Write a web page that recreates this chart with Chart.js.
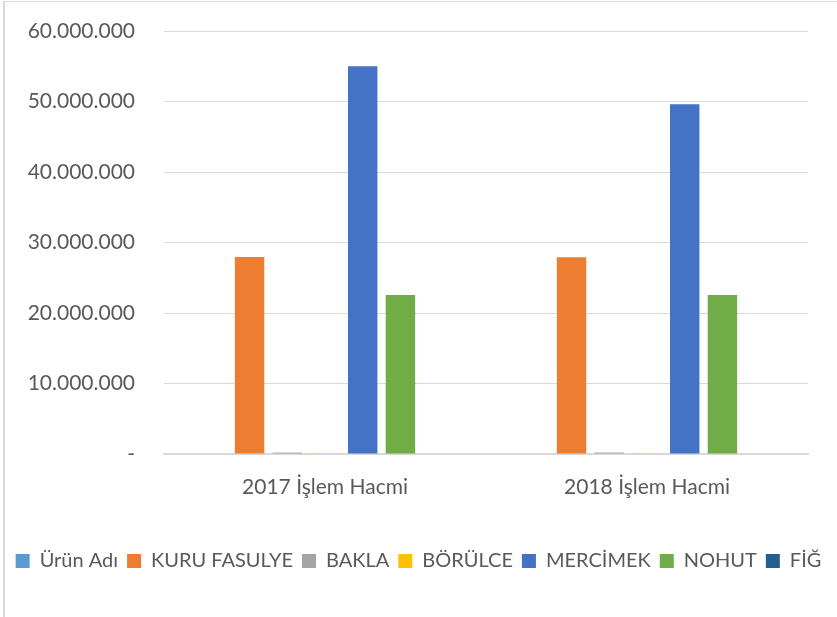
<!DOCTYPE html>
<html>
<head>
<meta charset="utf-8">
<script src="https://cdn.jsdelivr.net/npm/chart.js@4.4.1/dist/chart.umd.min.js"></script>
<style>
  html, body { margin: 0; padding: 0; background: #fff; }
  #wrap { position: absolute; left: 0; top: 0; width: 837px; height: 617px; }
  #frame { position: absolute; left: 3px; top: 1px; width: 840px; height: 620px; border-left: 2px solid #d9d9d9; border-top: 1px solid #d9d9d9; pointer-events: none; }
  canvas { position: absolute; left: 0; top: 0; }
</style>
</head>
<body>
<div id="wrap">
  <canvas id="c" width="837" height="617"></canvas>
  <div id="frame"></div>
</div>
<script>
const categories = ["2017 İşlem Hacmi", "2018 İşlem Hacmi"];
const seriesNames = ["Ürün Adı", "KURU FASULYE", "BAKLA", "BÖRÜLCE", "MERCİMEK", "NOHUT", "FİĞ"];
const urunAdi     = [0, 0];
const kuruFasulye = [27950000, 27900000];
const bakla       = [200000, 210000];
const borulce     = [100000, 90000];
const mercimek    = [55000000, 49600000];
const nohut       = [22550000, 22550000];
const fig         = [0, 0];
const yTicks = [0, 10000000, 20000000, 30000000, 40000000, 50000000, 60000000];
const seriesColors = ["#5B9BD5", "#ED7D31", "#A5A5A5", "#FFC000", "#4472C4", "#70AD47", "#255E91"];

const seriesValues = [urunAdi, kuruFasulye, bakla, borulce, mercimek, nohut, fig];

function fmt(v) {
  if (v === 0) return "-";
  return String(Math.round(v)).replace(/\B(?=(\d{3})+(?!\d))/g, ".");
}

const FONT = "Lato, 'Open Sans', sans-serif";
const TXT = "#595959";

new Chart(document.getElementById("c"), {
  type: "bar",
  data: {
    labels: categories,
    datasets: seriesNames.map((n, i) => ({
      label: n,
      data: seriesValues[i],
      backgroundColor: seriesColors[i],
      borderWidth: 0,
      categoryPercentage: 0.82,
      barPercentage: 0.78
    }))
  },
  options: {
    responsive: false,
    animation: false,
    layout: { padding: { left: 0, right: 0, top: 31, bottom: 36 } },
    plugins: {
      legend: {
        position: "bottom",
        labels: {
          font: { family: FONT, size: 20 },
          color: TXT,
          boxWidth: 14,
          boxHeight: 14,
          padding: 9
        }
      },
      tooltip: { enabled: false }
    },
    scales: {
      x: {
        grid: { display: false, drawTicks: false },
        border: { display: true, color: "#d9d9d9", width: 2 },
        ticks: { font: { family: FONT, size: 21 }, color: TXT, padding: 21 },
        afterFit: s => { s.height = 88; s.paddingLeft = 0; s.paddingRight = 0; }
      },
      y: {
        min: 0,
        max: 60000000,
        afterBuildTicks: s => { s.ticks = yTicks.map(v => ({ value: v })); },
        grid: { color: "#d9d9d9", lineWidth: 1, drawTicks: false },
        border: { display: false },
        ticks: {
          font: { family: FONT, size: 21 },
          color: TXT,
          padding: 29,
          callback: v => fmt(v)
        },
        afterFit: s => { s.width = 164; s.paddingTop = 0; s.paddingBottom = 0; }
      },
      yRight: {
        position: "right",
        display: true,
        min: 0,
        max: 60000000,
        grid: { display: false, drawTicks: false },
        border: { display: false },
        ticks: { display: false },
        afterFit: s => { s.width = 29; s.paddingTop = 0; s.paddingBottom = 0; }
      }
    }
  }
});
</script>
</body>
</html>
